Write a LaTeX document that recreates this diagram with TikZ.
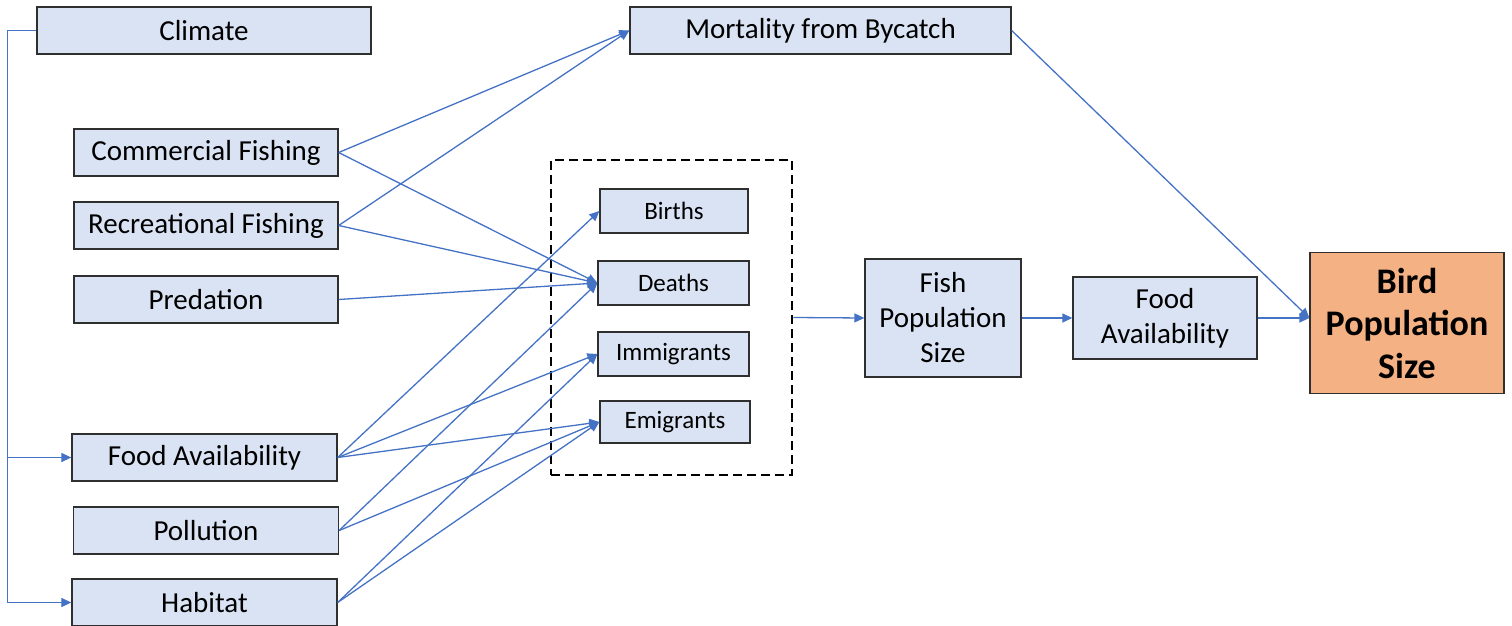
\documentclass[tikz,border=0pt]{standalone}
\usepackage{fontspec}
\setmainfont{Carlito}
\usetikzlibrary{arrows.meta,calc}
\definecolor{boxfill}{HTML}{DAE3F3}
\definecolor{boxline}{HTML}{2F2F2F}
\definecolor{connc}{HTML}{4472C4}
\definecolor{birdfill}{HTML}{F4B183}
\begin{document}
\begin{tikzpicture}[x=1bp,y=-1bp,
  box/.style={draw=boxline,line width=1.3bp,fill=boxfill,inner sep=0pt,align=center,
    font=\fontsize{29bp}{35bp}\selectfont},
  smallbox/.style={box,font=\fontsize{25bp}{30bp}\selectfont},
  birdbox/.style={box,fill=birdfill,font=\bfseries\fontsize{36bp}{42.5bp}\selectfont},
  dashbox/.style={draw=black,line width=2.8bp,dash pattern=on 9bp off 5bp,inner sep=0pt},
  conn/.style={draw=connc,line width=1.3bp,-{Triangle[length=10bp,width=9bp]}},
  plainconn/.style={draw=connc,line width=1.3bp}]
\useasboundingbox (0,0) rectangle (1512,626);

\node[box,minimum width=334bp,minimum height=47bp] (climate) at (204,30.5) {Climate};
\node[box,minimum width=264bp,minimum height=47bp] (comm) at (206,152.5) {Commercial Fishing};
\node[box,minimum width=264bp,minimum height=47bp] (rec) at (206,225.5) {Recreational Fishing};
\node[box,minimum width=264bp,minimum height=47bp] (pred) at (206,299.5) {Predation};
\node[box,minimum width=265bp,minimum height=47bp] (foodL) at (204.5,457.5) {Food Availability};
\node[box,minimum width=265bp,minimum height=47bp] (poll) at (206,530.5) {Pollution};
\node[box,minimum width=265bp,minimum height=47bp] (hab) at (204.5,602.5) {Habitat};
\node[box,minimum width=381bp,minimum height=47bp] (mort) at (820.5,30.5) {Mortality from Bycatch};

\node[dashbox,minimum width=241bp,minimum height=315bp] (grp) at (671.5,317.5) {};
\node[smallbox,minimum width=148bp,minimum height=44bp] (births) at (674,211) {Births};
\node[smallbox,minimum width=151bp,minimum height=44bp] (deaths) at (673.5,283) {Deaths};
\node[smallbox,minimum width=151bp,minimum height=44bp] (imm) at (673.5,354) {Immigrants};
\node[smallbox,minimum width=150bp,minimum height=42bp] (emi) at (675,422) {Emigrants};

\node[box,minimum width=156bp,minimum height=118bp] (fish) at (943,318) {Fish\\Population\\Size};
\node[box,minimum width=184bp,minimum height=82bp] (foodR) at (1165,318) {Food\\Availability};
\node[birdbox,minimum width=194bp,minimum height=141bp] (bird) at (1407,323.3) {Bird\\Population\\Size};

% climate feed
\draw[plainconn] (climate.west) -- ++(-29,0) coordinate (cl);
\draw[conn] (cl) |- (foodL.west);
\draw[conn] (cl) |- (hab.west);

% fishing to mortality and deaths
\draw[conn] (comm.east) -- (mort.west);
\draw[conn] (rec.east) -- (mort.west);
\draw[conn] (comm.east) -- (deaths.west);
\draw[conn] (rec.east) -- (deaths.west);
\draw[conn] (pred.east) -- (deaths.west);

% lower factors
\draw[conn] (foodL.east) -- (births.west);
\draw[conn] (foodL.east) -- (imm.west);
\draw[conn] (foodL.east) -- (emi.west);
\draw[conn] (poll.east) -- (deaths.west);
\draw[conn] (poll.east) -- (emi.west);
\draw[conn] (hab.east) -- (imm.west);
\draw[conn] (hab.east) -- (emi.west);

% right chain
\coordinate (bin) at (foodR.east -| bird.west);
\draw[conn] (grp.east) -- (fish.west);
\draw[conn] (fish.east) -- (foodR.west);
\draw[conn] (foodR.east) -- (bin);
\draw[conn] (mort.east) -- (bin);
\end{tikzpicture}
\end{document}
